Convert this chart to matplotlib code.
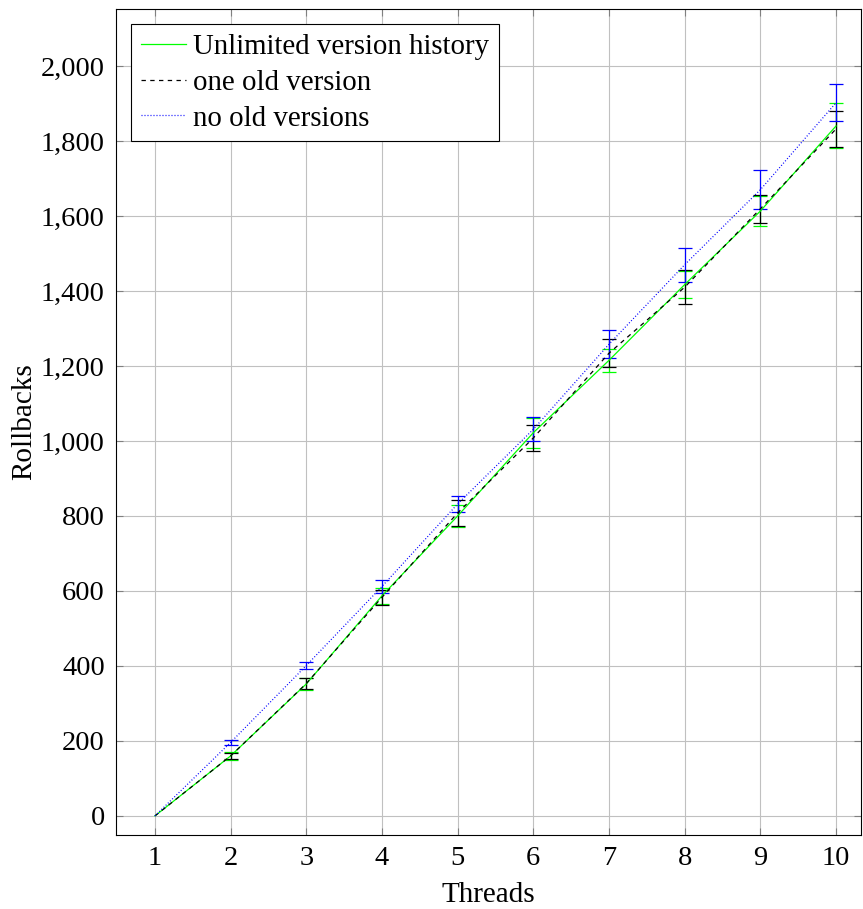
import matplotlib
matplotlib.use("Agg")
import matplotlib.pyplot as plt
from matplotlib.ticker import FuncFormatter
from matplotlib.lines import Line2D

threads = [1, 2, 3, 4, 5, 6, 7, 8, 9, 10]

unlimited_mean = [0, 160, 352, 587, 800, 1022, 1215, 1417, 1613, 1840]
unlimited_err = [0, 10, 15, 22, 30, 40, 30, 35, 41, 60]

one_old_mean = [0, 160, 353, 583, 808, 1008, 1234, 1410, 1619, 1832]
one_old_err = [0, 9, 14, 20, 35, 35, 38, 46, 38, 48]

no_old_mean = [0, 196, 401, 612, 832, 1031, 1258, 1470, 1670, 1902]
no_old_err = [0, 7, 10, 17, 22, 32, 38, 45, 52, 50]

yticks = [0, 200, 400, 600, 800, 1000, 1200, 1400, 1600, 1800, 2000]

plt.rcParams['font.family'] = ['Liberation Serif', 'DejaVu Serif']
plt.rcParams['mathtext.fontset'] = 'stix'

fig = plt.figure(figsize=(8.63, 9.09), dpi=100)
ax = fig.add_axes([116/863, 74/909, (861-116)/863, (835-9)/909])

series = [
    (unlimited_mean, unlimited_err, '#00ff00', '-', 'Unlimited version history'),
    (one_old_mean, one_old_err, 'black', (0, (3.5, 3.5)), 'one old version'),
    (no_old_mean, no_old_err, '#0000ff', (0, (0.8, 1.6)), 'no old versions'),
]
for mean, err, col, ls, lab in series:
    ax.errorbar(threads, mean, yerr=err, errorevery=(1, 1), color=col,
                linestyle=ls, linewidth=0.9, elinewidth=0.9, capsize=5,
                capthick=0.9, label=lab, zorder=3)

ax.set_xlim(0.485, 10.33)
ax.set_ylim(-51, 2152)
ax.set_xticks(threads)
ax.set_yticks(yticks)
ax.yaxis.set_major_formatter(FuncFormatter(lambda v, p: f"{int(v):,}"))
ax.grid(True, color='#c0c0c0', linewidth=0.8, zorder=0)
ax.set_axisbelow(True)
ax.tick_params(direction='in', length=5, width=0.8, color='#808080',
               top=True, right=True, labelsize=20.5, pad=8)
for s in ax.spines.values():
    s.set_linewidth(0.8)
    s.set_color('black')

ax.set_xlabel('Threads', fontsize=21, labelpad=8)
ax.set_ylabel('Rollbacks', fontsize=21, labelpad=3)

leg_handles = [Line2D([], [], color=c, linestyle=ls, linewidth=0.9) for _, _, c, ls, _ in series]
leg = ax.legend(leg_handles, [s[4] for s in series], loc='upper left',
                fontsize=20.8, frameon=True, fancybox=False, edgecolor='black',
                framealpha=1, handlelength=1.55, handletextpad=0.27,
                borderpad=0.33, labelspacing=0.33, borderaxespad=0.53)
leg.get_frame().set_linewidth(0.8)

fig.savefig('out.png', dpi=100)
